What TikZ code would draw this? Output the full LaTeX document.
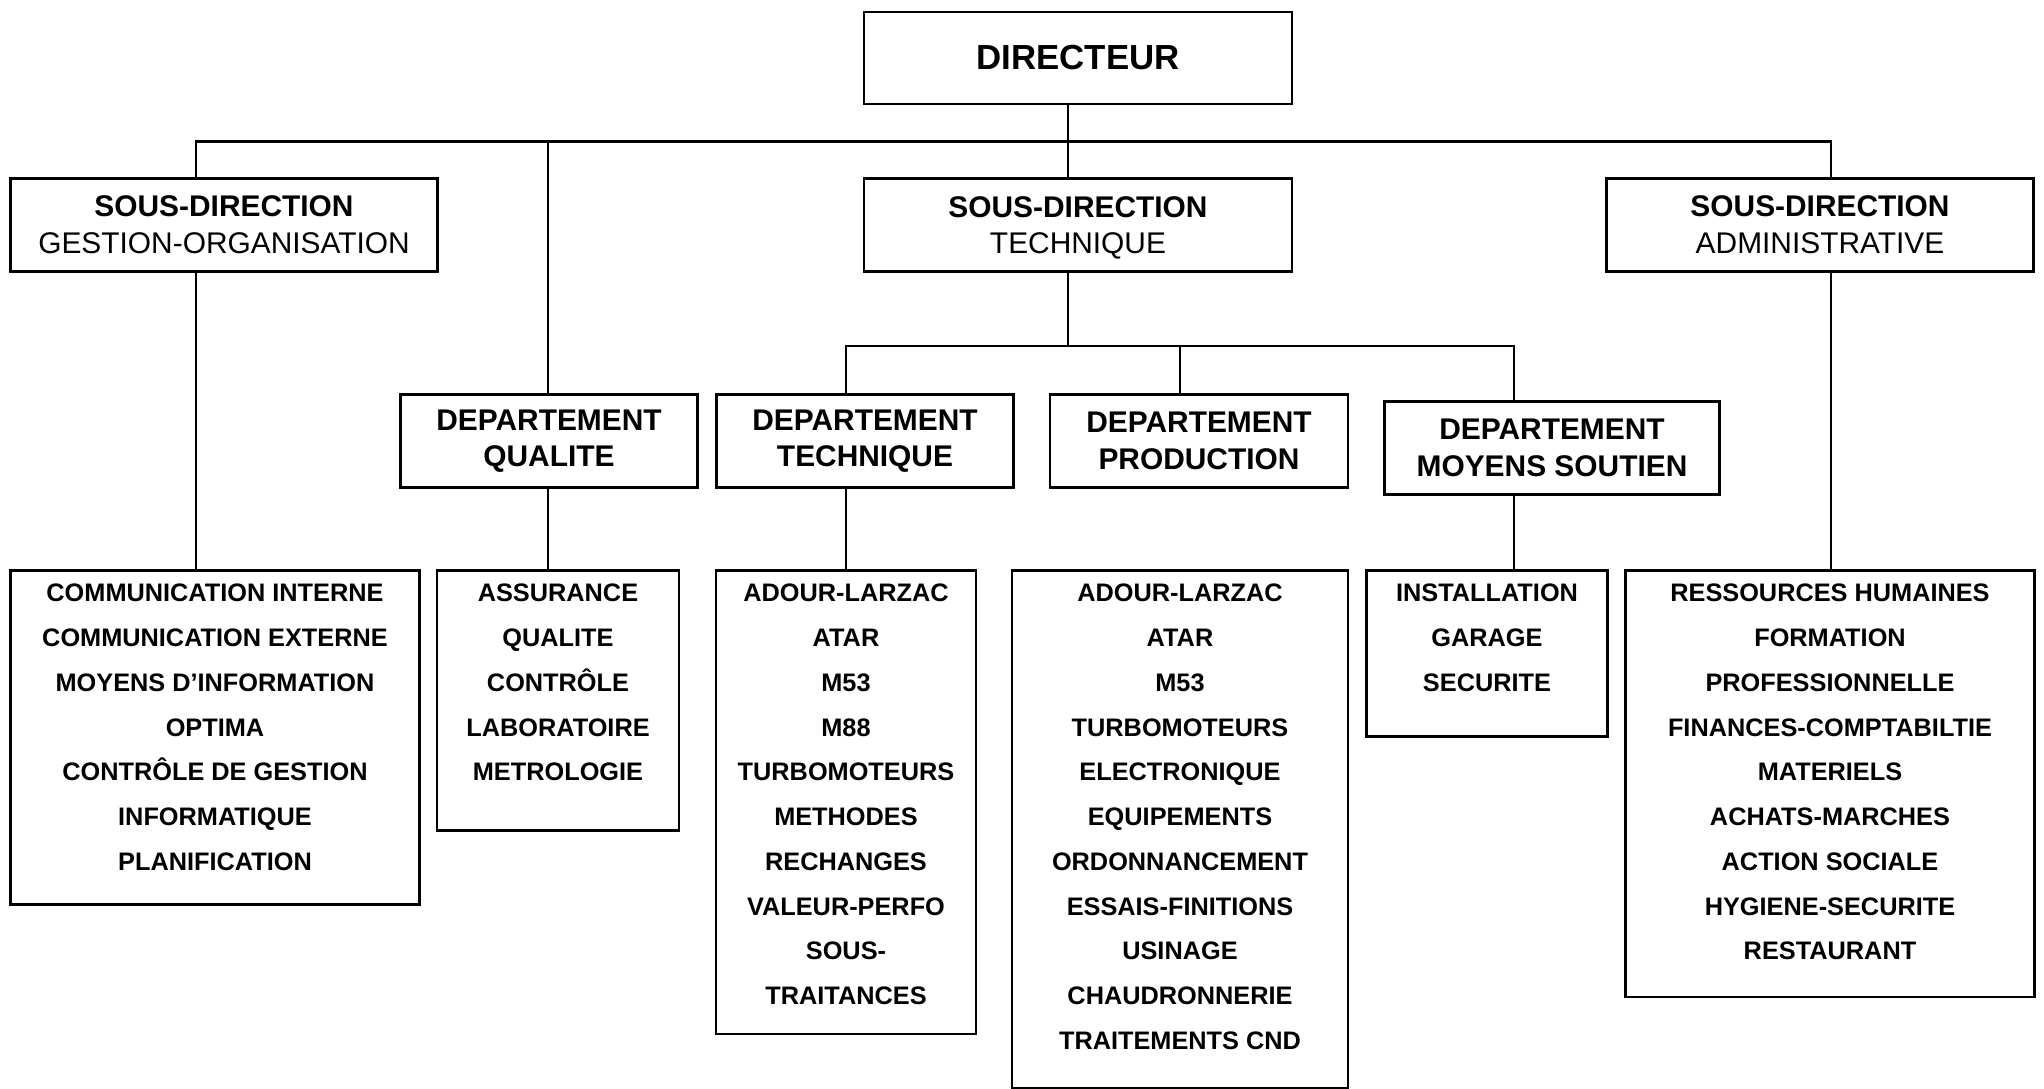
\documentclass[tikz,border=0pt]{standalone}
\usepackage{fontspec}
\setmainfont{Liberation Sans}
\usepackage{tikz}

\begin{document}
\begin{tikzpicture}[x=0.01cm, y=-0.01cm,
  box/.style={draw, line width=0.75pt, inner sep=0pt, align=center, font=\fontsize{8.5}{10.4}\selectfont},
  listbox/.style={draw, line width=0.75pt, inner sep=0pt, anchor=north, minimum height=#1},
  listtext/.style={anchor=north, inner sep=0pt, align=center, yshift=-0.14cm, font=\fontsize{7.2}{12.72}\selectfont\bfseries},
  link/.style={line width=0.6pt}]
\useasboundingbox (0,0) rectangle (2044,1089);

% Direction
\node[box, minimum width=4.28cm, minimum height=0.92cm, font=\fontsize{9.9}{12}\selectfont\bfseries] (dir) at (1078,58) {DIRECTEUR};

% Sous-directions
\node[box, minimum width=4.27cm, minimum height=0.93cm] (sdgest) at (224,225) {\textbf{SOUS-DIRECTION}\\GESTION-ORGANISATION};
\node[box, minimum width=4.28cm, minimum height=0.93cm, text depth=0pt] (sdtech) at (1078,225) {\textbf{SOUS-DIRECTION}\\TECHNIQUE};
\node[box, minimum width=4.27cm, minimum height=0.93cm] (sdadmin) at (1820,225) {\textbf{SOUS-DIRECTION}\\ADMINISTRATIVE};

% Departements
\node[box, minimum width=2.97cm, minimum height=0.925cm, font=\fontsize{8.5}{10.4}\selectfont\bfseries] (dqual) at (549,441) {DEPARTEMENT\\QUALITE};
\node[box, minimum width=2.97cm, minimum height=0.925cm, font=\fontsize{8.5}{10.4}\selectfont\bfseries] (dtech) at (865,441) {DEPARTEMENT\\TECHNIQUE};
\node[box, minimum width=2.98cm, minimum height=0.925cm, font=\fontsize{8.5}{10.4}\selectfont\bfseries] (dprod) at (1199,441) {DEPARTEMENT\\PRODUCTION};
\node[box, minimum width=3.35cm, minimum height=0.935cm, font=\fontsize{8.5}{10.4}\selectfont\bfseries] (dmoy) at (1552,448) {DEPARTEMENT\\MOYENS SOUTIEN};

% Services
\node[listbox=3.335cm, minimum width=4.085cm] (lgest) at (215,569.5) {};
\node[listtext] (tgest) at (lgest.north) {COMMUNICATION INTERNE\\COMMUNICATION EXTERNE\\MOYENS D’INFORMATION\\OPTIMA\\CONTRÔLE DE GESTION\\INFORMATIQUE\\PLANIFICATION};

\node[listbox=2.595cm, minimum width=2.42cm] (lqual) at (558,569.5) {};
\node[listtext] (tqual) at (lqual.north) {ASSURANCE\\QUALITE\\CONTRÔLE\\LABORATOIRE\\METROLOGIE};

\node[listbox=4.63cm, minimum width=2.6cm] (ltech) at (846,569.5) {};
\node[listtext] (ttech) at (ltech.north) {ADOUR-LARZAC\\ATAR\\M53\\M88\\TURBOMOTEURS\\METHODES\\RECHANGES\\VALEUR-PERFO\\SOUS-\\TRAITANCES};

\node[listbox=5.175cm, minimum width=3.355cm] (lprod) at (1180,569.5) {};
\node[listtext] (tprod) at (lprod.north) {ADOUR-LARZAC\\ATAR\\M53\\TURBOMOTEURS\\ELECTRONIQUE\\EQUIPEMENTS\\ORDONNANCEMENT\\ESSAIS-FINITIONS\\USINAGE\\CHAUDRONNERIE\\TRAITEMENTS CND};

\node[listbox=1.655cm, minimum width=2.414cm] (lmoy) at (1487,569.5) {};
\node[listtext] (tmoy) at (lmoy.north) {INSTALLATION\\GARAGE\\SECURITE};

\node[listbox=4.26cm, minimum width=4.085cm] (ladmin) at (1830,569.5) {};
\node[listtext] (tadmin) at (ladmin.north) {RESSOURCES HUMAINES\\FORMATION\\PROFESSIONNELLE\\FINANCES-COMPTABILTIE\\MATERIELS\\ACHATS-MARCHES\\ACTION SOCIALE\\HYGIENE-SECURITE\\RESTAURANT};

% Liaisons
\coordinate (busA) at (0,141.5);
\coordinate (busB) at (0,346);
\coordinate (gx) at (196,0);
\coordinate (qx) at (548,0);
\coordinate (dx) at (1068,0);
\coordinate (ax) at (1831,0);
\coordinate (tx) at (846,0);
\coordinate (px) at (1180,0);
\coordinate (mx) at (1514,0);

\draw[link] (dir.south -| dx) -- (sdtech.north -| dx);
\draw[link] (sdgest.north -| gx) -- (gx |- busA) -- (ax |- busA) -- (sdadmin.north -| ax);
\draw[link] (qx |- busA) -- (dqual.north -| qx);
\draw[link] (sdgest.south -| gx) -- (lgest.north -| gx);
\draw[link] (dqual.south -| qx) -- (lqual.north -| qx);
\draw[link] (sdtech.south -| dx) -- (dx |- busB);
\draw[link] (dtech.north -| tx) -- (tx |- busB) -- (mx |- busB) -- (dmoy.north -| mx);
\draw[link] (px |- busB) -- (dprod.north -| px);
\draw[link] (dtech.south -| tx) -- (ltech.north -| tx);
\draw[link] (dmoy.south -| mx) -- (lmoy.north -| mx);
\draw[link] (sdadmin.south -| ax) -- (ladmin.north -| ax);

\end{tikzpicture}
\end{document}
